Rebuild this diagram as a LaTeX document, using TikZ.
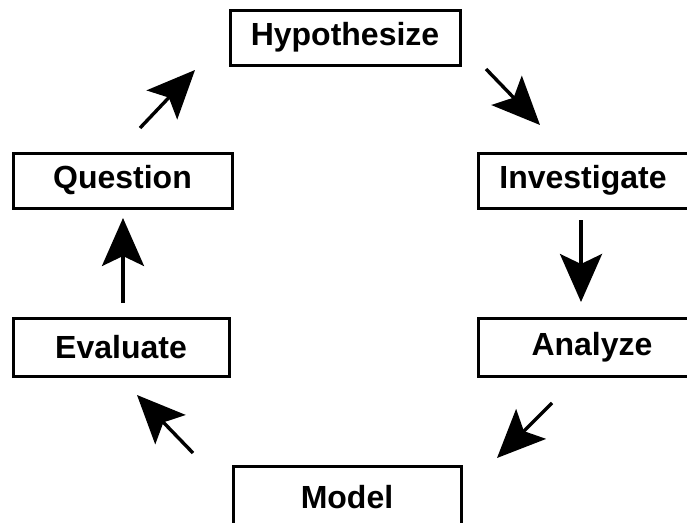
\documentclass[tikz,border=0pt]{standalone}
\usepackage{fontspec}
\setmainfont{Liberation Sans}
\usetikzlibrary{arrows.meta}
\begin{document}
\begin{tikzpicture}[x=1pt,y=-1pt,
  stagebox/.style={draw, line width=3pt, inner sep=0pt, font=\bfseries\fontsize{32}{38}\selectfont},
  flow/.style={line width=3.4pt, -{Stealth[length=48pt,width=42pt,inset=10pt]}}]
\useasboundingbox[fill=white] (0,0) rectangle (687,522);
\node[stagebox, minimum width=230pt, minimum height=55pt] (hyp) at (345,37.5) {Hypothesize};
\node[stagebox, minimum width=219pt, minimum height=55pt] (que) at (122.5,180.5) {Question};
\node[stagebox, minimum width=210pt, minimum height=55pt] (inv) at (583,180.5) {Investigate};
\node[stagebox, minimum width=216pt, minimum height=58pt] (eva) at (121,347.5) {Evaluate};
\node[stagebox, minimum width=228pt, minimum height=58pt] (ana) at (592,347.5) {Analyze};
\node[stagebox, minimum width=228pt, minimum height=62pt] (mod) at (347,497) {Model};
\coordinate (qh1) at (140,128); \coordinate (qh2) at (195,70);
\coordinate (hi1) at (486,69);  \coordinate (hi2) at (540,125);
\coordinate (ia1) at (581,220); \coordinate (ia2) at (581,302);
\coordinate (am1) at (552,403); \coordinate (am2) at (497,458);
\coordinate (me1) at (193,453); \coordinate (me2) at (137,395);
\coordinate (eq1) at (123,303); \coordinate (eq2) at (123,218);
\draw[flow] (qh1) -- (qh2);
\draw[flow] (hi1) -- (hi2);
\draw[flow] (ia1) -- (ia2);
\draw[flow] (am1) -- (am2);
\draw[flow] (me1) -- (me2);
\draw[flow] (eq1) -- (eq2);
\end{tikzpicture}
\end{document}
